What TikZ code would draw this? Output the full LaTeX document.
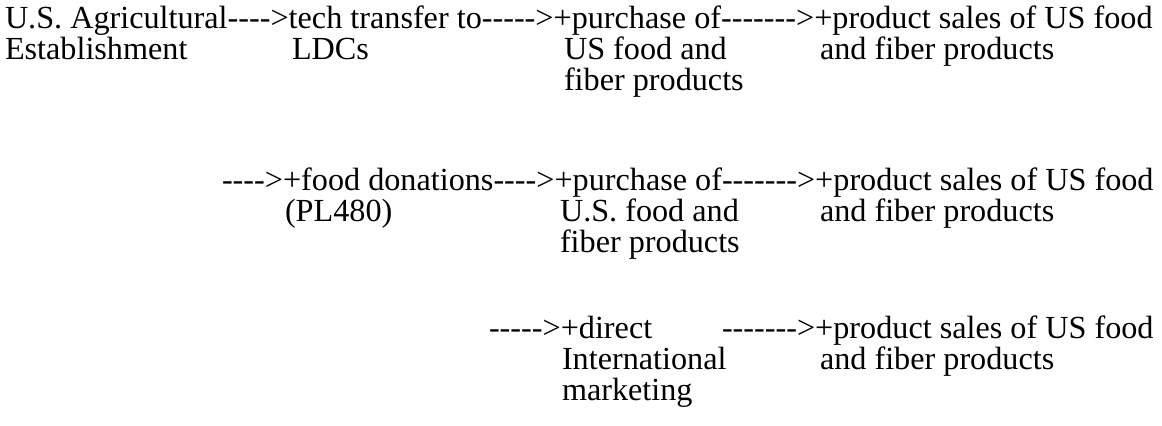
\documentclass[tikz,border=0pt]{standalone}
\usepackage{fontspec}
\setmainfont{Liberation Serif}
\usepackage{tikz}
\usetikzlibrary{positioning}
\newcommand\dfont{\fontsize{16.1pt}{15.5pt}\selectfont}
\newcommand\dashto[1]{\foreach\k in {1,...,#1}{-}>}
\tikzset{
  tx/.style={anchor=base west,inner sep=0pt,outer sep=0pt,font=\dfont},
  ch/.style={tx,base right=0pt of #1}
}

\begin{document}
\begin{tikzpicture}[x=0.5pt,y=-0.5pt]
\useasboundingbox (0,0) rectangle (1162,425);
% tech transfer
\node[tx] (agr) at (5,28) {U.S. Agricultural};
\node[ch=agr] (d1) {\dashto{4}};
\node[ch=d1] (tech) {tech transfer to};
\node[ch=tech] (d2) {\dashto{5}};
\node[ch=d2] (buy1) {+purchase of};
\node[ch=buy1] (d3) {\dashto{7}};
\node[ch=d3] (sale1) {+product sales of US food};
\node[tx] (est) at (5,59) {Establishment};
\node[tx] (ldc) at (292,59) {LDCs};
\node[tx] (buy1b) at (564,59) {US food and};
\node[tx] (buy1c) at (564,90) {fiber products};
\node[tx] (sale1b) at (820,59) {and fiber products};
% food donations
\node[tx] (d4) at (222,190) {\dashto{4}};
\node[ch=d4] (don) {+food donations};
\node[ch=don] (d5) {\dashto{4}};
\node[ch=d5] (buy2) {+purchase of};
\node[ch=buy2] (d6) {\dashto{7}};
\node[ch=d6] (sale2) {+product sales of US food};
\node[tx] (pl) at (285,221) {(PL480)};
\node[tx] (buy2b) at (560,221) {U.S. food and};
\node[tx] (buy2c) at (560,252) {fiber products};
\node[tx] (sale2b) at (820,221) {and fiber products};
% direct marketing
\node[tx] (d7) at (489,338) {\dashto{5}};
\node[ch=d7] (dir) {+direct};
\node[tx] (d8) at (722,338) {\dashto{7}};
\node[ch=d8] (sale3) {+product sales of US food};
\node[tx] (dirb) at (562,369) {International};
\node[tx] (dirc) at (562,400) {marketing};
\node[tx] (sale3b) at (820,369) {and fiber products};
\end{tikzpicture}
\end{document}
